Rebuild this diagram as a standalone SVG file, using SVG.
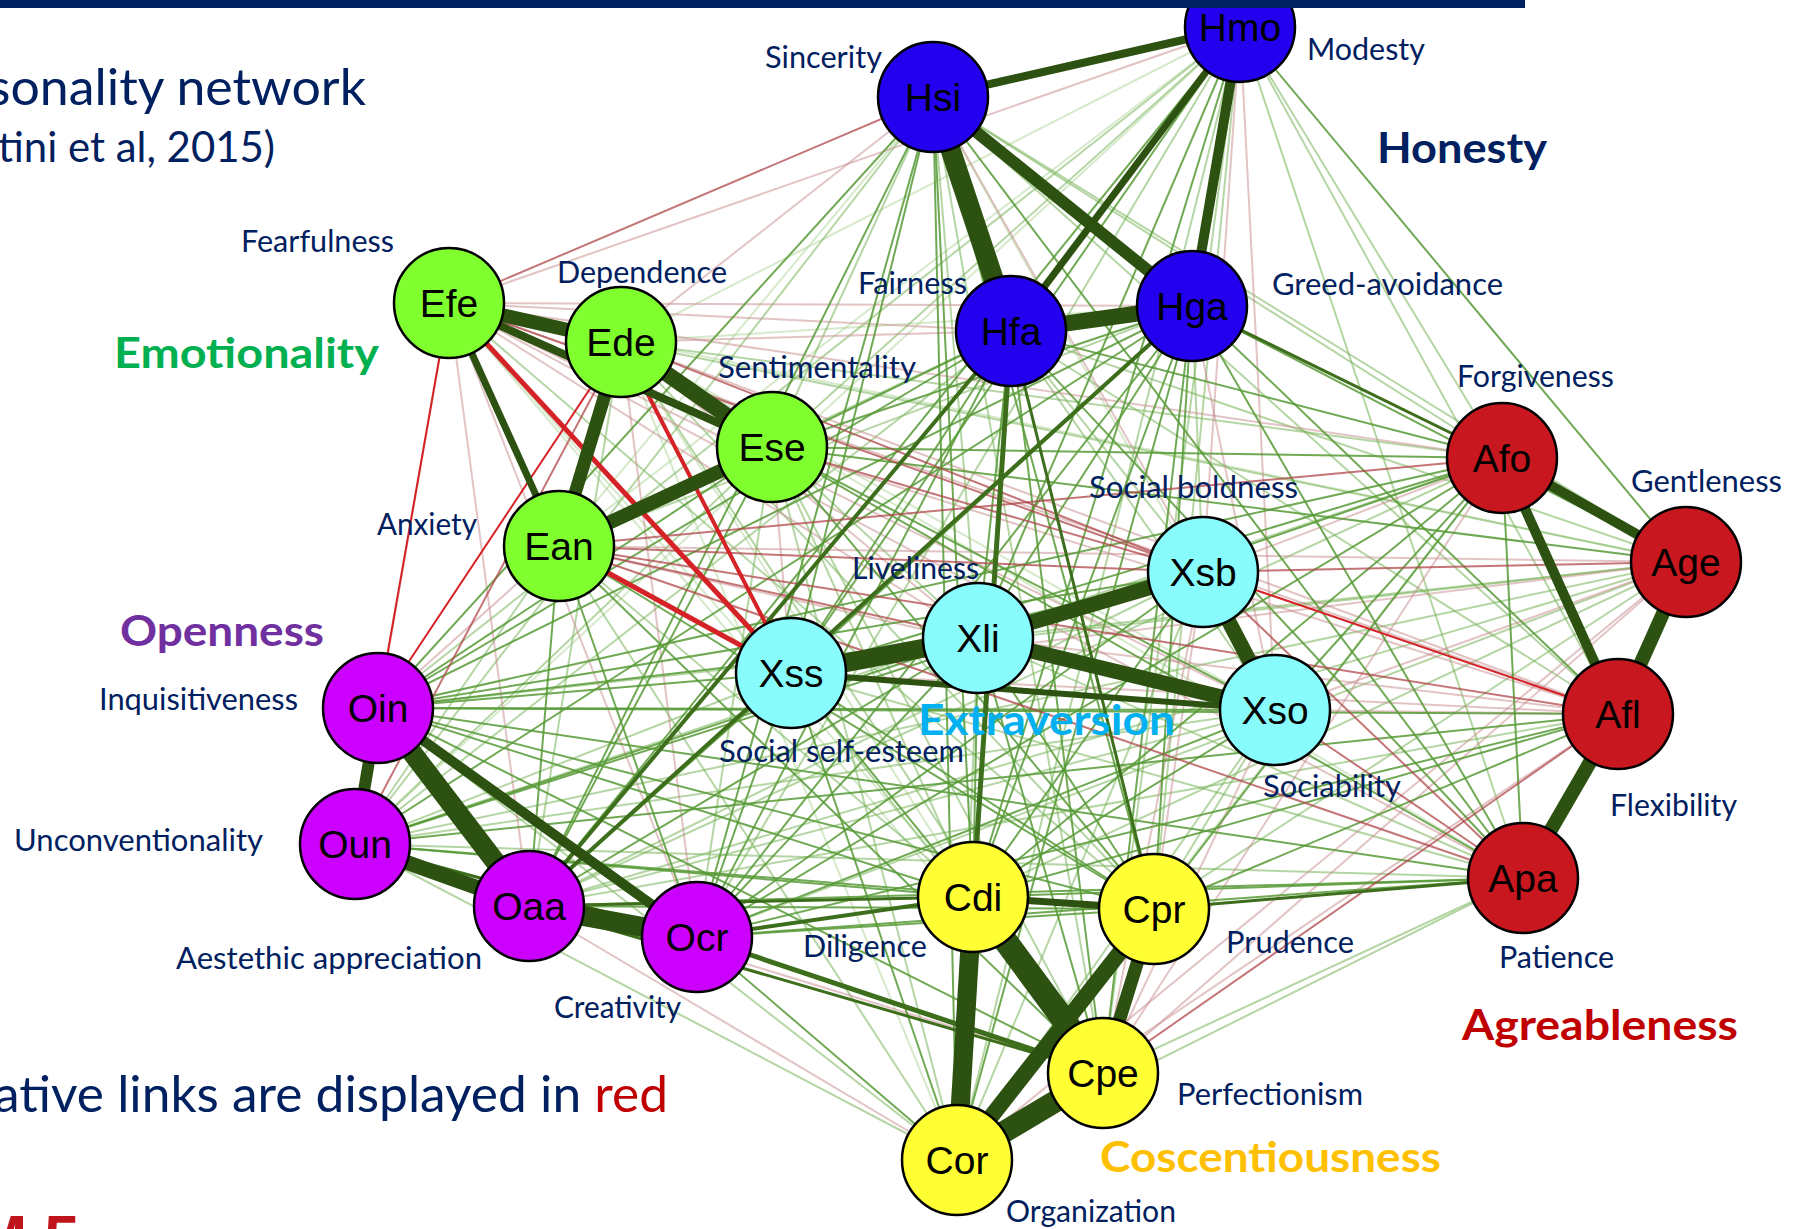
<svg xmlns="http://www.w3.org/2000/svg" width="1807" height="1229" viewBox="0 0 1807 1229">
<style>
  .bg{fill:#ffffff}
  .bar{fill:#002060}
  line{stroke-linecap:butt;fill:none}
  .g1 line{stroke:#2C5110}
  .g2 line{stroke:#3D6E1C}
  .g3 line{stroke:#579A36;stroke-width:2;stroke-opacity:.85}
  .g4 line{stroke:#79B45A;stroke-width:2;stroke-opacity:.55}
  .g5 line{stroke:#A5CF8C;stroke-width:2;stroke-opacity:.45}
  .r1 line{stroke:#D42226}
  .r2 line{stroke:#B0474B;stroke-width:2;stroke-opacity:.75}
  .r3 line{stroke:#C78A8C;stroke-width:2;stroke-opacity:.5}
  .node circle{stroke:#000;stroke-width:2.5}
  .node text{font-family:"Liberation Sans",Arial,sans-serif;font-size:39px;fill:#000;text-anchor:middle}
  .H circle{fill:#2300EE}
  .E circle{fill:#80FF2E}
  .X circle{fill:#88FCFC}
  .O circle{fill:#CC00FF}
  .C circle{fill:#FFFF33}
  .A circle{fill:#C8171E}
  .facet{font-family:Lato,"Open Sans",sans-serif;font-size:31px;fill:#002060}
  .cat{font-family:Lato,"Open Sans",sans-serif;font-size:42px;font-weight:bold}
  .big{font-family:Lato,"Open Sans",sans-serif;fill:#002060}
</style>
<rect class="bg" x="0" y="0" width="1807" height="1229"/>

<g id="connectors">
  <g class="g5">
    <line x1="1240" y1="27" x2="621" y2="342"/>
    <line x1="1240" y1="27" x2="559" y2="546"/>
    <line x1="1240" y1="27" x2="355" y2="844"/>
    <line x1="933" y1="97" x2="559" y2="546"/>
    <line x1="933" y1="97" x2="1275" y2="710"/>
    <line x1="1192" y1="306" x2="621" y2="342"/>
    <line x1="449" y1="303" x2="973" y2="897"/>
    <line x1="449" y1="303" x2="1103" y2="1073"/>
    <line x1="449" y1="303" x2="1686" y2="562"/>
    <line x1="621" y1="342" x2="1275" y2="710"/>
    <line x1="621" y1="342" x2="973" y2="897"/>
    <line x1="621" y1="342" x2="957" y2="1160"/>
    <line x1="621" y1="342" x2="1523" y2="878"/>
    <line x1="957" y1="1160" x2="1502" y2="458"/>
  </g>
  <g class="g4">
    <line x1="1240" y1="27" x2="772" y2="447"/>
    <line x1="1240" y1="27" x2="378" y2="708"/>
    <line x1="1240" y1="27" x2="697" y2="937"/>
    <line x1="1240" y1="27" x2="1154" y2="909"/>
    <line x1="1240" y1="27" x2="1103" y2="1073"/>
    <line x1="1240" y1="27" x2="957" y2="1160"/>
    <line x1="1240" y1="27" x2="1502" y2="458"/>
    <line x1="1240" y1="27" x2="1618" y2="714"/>
    <line x1="1240" y1="27" x2="1523" y2="878"/>
    <line x1="933" y1="97" x2="772" y2="447"/>
    <line x1="933" y1="97" x2="978" y2="638"/>
    <line x1="933" y1="97" x2="355" y2="844"/>
    <line x1="933" y1="97" x2="1103" y2="1073"/>
    <line x1="933" y1="97" x2="1502" y2="458"/>
    <line x1="933" y1="97" x2="1686" y2="562"/>
    <line x1="933" y1="97" x2="1618" y2="714"/>
    <line x1="1011" y1="331" x2="559" y2="546"/>
    <line x1="1011" y1="331" x2="1203" y2="572"/>
    <line x1="1011" y1="331" x2="1275" y2="710"/>
    <line x1="1011" y1="331" x2="355" y2="844"/>
    <line x1="1011" y1="331" x2="1686" y2="562"/>
    <line x1="1011" y1="331" x2="1618" y2="714"/>
    <line x1="1192" y1="306" x2="559" y2="546"/>
    <line x1="1192" y1="306" x2="1203" y2="572"/>
    <line x1="449" y1="303" x2="1154" y2="909"/>
    <line x1="621" y1="342" x2="529" y2="906"/>
    <line x1="621" y1="342" x2="1154" y2="909"/>
    <line x1="621" y1="342" x2="1103" y2="1073"/>
    <line x1="621" y1="342" x2="1502" y2="458"/>
    <line x1="621" y1="342" x2="1686" y2="562"/>
    <line x1="772" y1="447" x2="978" y2="638"/>
    <line x1="772" y1="447" x2="355" y2="844"/>
    <line x1="772" y1="447" x2="697" y2="937"/>
    <line x1="772" y1="447" x2="973" y2="897"/>
    <line x1="772" y1="447" x2="1103" y2="1073"/>
    <line x1="772" y1="447" x2="957" y2="1160"/>
    <line x1="559" y1="546" x2="355" y2="844"/>
    <line x1="559" y1="546" x2="973" y2="897"/>
    <line x1="559" y1="546" x2="957" y2="1160"/>
    <line x1="791" y1="673" x2="355" y2="844"/>
    <line x1="791" y1="673" x2="1103" y2="1073"/>
    <line x1="791" y1="673" x2="1523" y2="878"/>
    <line x1="978" y1="638" x2="957" y2="1160"/>
    <line x1="978" y1="638" x2="1686" y2="562"/>
    <line x1="978" y1="638" x2="1523" y2="878"/>
    <line x1="1203" y1="572" x2="529" y2="906"/>
    <line x1="1203" y1="572" x2="957" y2="1160"/>
    <line x1="1275" y1="710" x2="355" y2="844"/>
    <line x1="1275" y1="710" x2="529" y2="906"/>
    <line x1="1275" y1="710" x2="1154" y2="909"/>
    <line x1="1275" y1="710" x2="957" y2="1160"/>
    <line x1="378" y1="708" x2="957" y2="1160"/>
    <line x1="378" y1="708" x2="1686" y2="562"/>
    <line x1="355" y1="844" x2="957" y2="1160"/>
    <line x1="355" y1="844" x2="1502" y2="458"/>
    <line x1="355" y1="844" x2="1686" y2="562"/>
    <line x1="355" y1="844" x2="1523" y2="878"/>
    <line x1="529" y1="906" x2="1502" y2="458"/>
    <line x1="529" y1="906" x2="1686" y2="562"/>
    <line x1="529" y1="906" x2="1618" y2="714"/>
    <line x1="697" y1="937" x2="1686" y2="562"/>
    <line x1="973" y1="897" x2="1686" y2="562"/>
    <line x1="1154" y1="909" x2="1686" y2="562"/>
    <line x1="1103" y1="1073" x2="1523" y2="878"/>
    <line x1="957" y1="1160" x2="1523" y2="878"/>
    <line x1="1686" y1="562" x2="1523" y2="878"/>
  </g>
  <g class="r3">
    <line x1="1240" y1="27" x2="449" y2="303"/>
    <line x1="1240" y1="27" x2="1203" y2="572"/>
    <line x1="1240" y1="27" x2="1275" y2="710"/>
    <line x1="933" y1="97" x2="621" y2="342"/>
    <line x1="933" y1="97" x2="1203" y2="572"/>
    <line x1="1011" y1="331" x2="449" y2="303"/>
    <line x1="1011" y1="331" x2="621" y2="342"/>
    <line x1="1192" y1="306" x2="449" y2="303"/>
    <line x1="1192" y1="306" x2="1275" y2="710"/>
    <line x1="449" y1="303" x2="978" y2="638"/>
    <line x1="449" y1="303" x2="1275" y2="710"/>
    <line x1="449" y1="303" x2="355" y2="844"/>
    <line x1="449" y1="303" x2="529" y2="906"/>
    <line x1="449" y1="303" x2="697" y2="937"/>
    <line x1="449" y1="303" x2="1502" y2="458"/>
    <line x1="449" y1="303" x2="1618" y2="714"/>
    <line x1="449" y1="303" x2="1523" y2="878"/>
    <line x1="621" y1="342" x2="978" y2="638"/>
    <line x1="621" y1="342" x2="697" y2="937"/>
    <line x1="621" y1="342" x2="1618" y2="714"/>
    <line x1="772" y1="447" x2="791" y2="673"/>
    <line x1="772" y1="447" x2="1618" y2="714"/>
    <line x1="559" y1="546" x2="1275" y2="710"/>
    <line x1="559" y1="546" x2="378" y2="708"/>
    <line x1="559" y1="546" x2="1686" y2="562"/>
    <line x1="791" y1="673" x2="1686" y2="562"/>
    <line x1="791" y1="673" x2="1618" y2="714"/>
    <line x1="978" y1="638" x2="1618" y2="714"/>
    <line x1="1203" y1="572" x2="1154" y2="909"/>
    <line x1="1203" y1="572" x2="1103" y2="1073"/>
    <line x1="1203" y1="572" x2="1502" y2="458"/>
    <line x1="1275" y1="710" x2="1103" y2="1073"/>
    <line x1="1275" y1="710" x2="1686" y2="562"/>
    <line x1="1275" y1="710" x2="1618" y2="714"/>
    <line x1="355" y1="844" x2="1103" y2="1073"/>
    <line x1="529" y1="906" x2="957" y2="1160"/>
    <line x1="1103" y1="1073" x2="1502" y2="458"/>
    <line x1="1103" y1="1073" x2="1686" y2="562"/>
    <line x1="957" y1="1160" x2="1686" y2="562"/>
    <line x1="957" y1="1160" x2="1618" y2="714"/>
  </g>
  <g class="g3">
    <line x1="1240" y1="27" x2="791" y2="673"/>
    <line x1="1240" y1="27" x2="978" y2="638"/>
    <line x1="1240" y1="27" x2="529" y2="906"/>
    <line x1="1240" y1="27" x2="973" y2="897"/>
    <line x1="1240" y1="27" x2="1686" y2="562"/>
    <line x1="933" y1="97" x2="791" y2="673"/>
    <line x1="933" y1="97" x2="378" y2="708"/>
    <line x1="933" y1="97" x2="529" y2="906"/>
    <line x1="933" y1="97" x2="697" y2="937"/>
    <line x1="933" y1="97" x2="973" y2="897"/>
    <line x1="933" y1="97" x2="1154" y2="909"/>
    <line x1="933" y1="97" x2="957" y2="1160"/>
    <line x1="933" y1="97" x2="1523" y2="878"/>
    <line x1="1011" y1="331" x2="772" y2="447"/>
    <line x1="1011" y1="331" x2="791" y2="673"/>
    <line x1="1011" y1="331" x2="978" y2="638"/>
    <line x1="1011" y1="331" x2="378" y2="708"/>
    <line x1="1011" y1="331" x2="697" y2="937"/>
    <line x1="1011" y1="331" x2="1103" y2="1073"/>
    <line x1="1011" y1="331" x2="957" y2="1160"/>
    <line x1="1011" y1="331" x2="1502" y2="458"/>
    <line x1="1011" y1="331" x2="1523" y2="878"/>
    <line x1="1192" y1="306" x2="772" y2="447"/>
    <line x1="1192" y1="306" x2="791" y2="673"/>
    <line x1="1192" y1="306" x2="978" y2="638"/>
    <line x1="1192" y1="306" x2="378" y2="708"/>
    <line x1="1192" y1="306" x2="355" y2="844"/>
    <line x1="1192" y1="306" x2="697" y2="937"/>
    <line x1="1192" y1="306" x2="973" y2="897"/>
    <line x1="1192" y1="306" x2="1154" y2="909"/>
    <line x1="1192" y1="306" x2="1103" y2="1073"/>
    <line x1="1192" y1="306" x2="957" y2="1160"/>
    <line x1="1192" y1="306" x2="1686" y2="562"/>
    <line x1="1192" y1="306" x2="1618" y2="714"/>
    <line x1="1192" y1="306" x2="1523" y2="878"/>
    <line x1="772" y1="447" x2="1275" y2="710"/>
    <line x1="772" y1="447" x2="378" y2="708"/>
    <line x1="772" y1="447" x2="529" y2="906"/>
    <line x1="772" y1="447" x2="1154" y2="909"/>
    <line x1="772" y1="447" x2="1502" y2="458"/>
    <line x1="772" y1="447" x2="1686" y2="562"/>
    <line x1="772" y1="447" x2="1523" y2="878"/>
    <line x1="559" y1="546" x2="529" y2="906"/>
    <line x1="559" y1="546" x2="697" y2="937"/>
    <line x1="559" y1="546" x2="1154" y2="909"/>
    <line x1="559" y1="546" x2="1103" y2="1073"/>
    <line x1="791" y1="673" x2="1203" y2="572"/>
    <line x1="791" y1="673" x2="378" y2="708"/>
    <line x1="791" y1="673" x2="529" y2="906"/>
    <line x1="791" y1="673" x2="697" y2="937"/>
    <line x1="791" y1="673" x2="973" y2="897"/>
    <line x1="791" y1="673" x2="1154" y2="909"/>
    <line x1="791" y1="673" x2="957" y2="1160"/>
    <line x1="791" y1="673" x2="1502" y2="458"/>
    <line x1="978" y1="638" x2="378" y2="708"/>
    <line x1="978" y1="638" x2="355" y2="844"/>
    <line x1="978" y1="638" x2="529" y2="906"/>
    <line x1="978" y1="638" x2="697" y2="937"/>
    <line x1="978" y1="638" x2="973" y2="897"/>
    <line x1="978" y1="638" x2="1154" y2="909"/>
    <line x1="978" y1="638" x2="1103" y2="1073"/>
    <line x1="978" y1="638" x2="1502" y2="458"/>
    <line x1="1203" y1="572" x2="378" y2="708"/>
    <line x1="1203" y1="572" x2="355" y2="844"/>
    <line x1="1203" y1="572" x2="697" y2="937"/>
    <line x1="1203" y1="572" x2="973" y2="897"/>
    <line x1="1275" y1="710" x2="378" y2="708"/>
    <line x1="1275" y1="710" x2="697" y2="937"/>
    <line x1="1275" y1="710" x2="973" y2="897"/>
    <line x1="1275" y1="710" x2="1502" y2="458"/>
    <line x1="378" y1="708" x2="973" y2="897"/>
    <line x1="378" y1="708" x2="1154" y2="909"/>
    <line x1="378" y1="708" x2="1103" y2="1073"/>
    <line x1="378" y1="708" x2="1502" y2="458"/>
    <line x1="378" y1="708" x2="1618" y2="714"/>
    <line x1="378" y1="708" x2="1523" y2="878"/>
    <line x1="355" y1="844" x2="973" y2="897"/>
    <line x1="355" y1="844" x2="1154" y2="909"/>
    <line x1="355" y1="844" x2="1618" y2="714"/>
    <line x1="529" y1="906" x2="1154" y2="909"/>
    <line x1="529" y1="906" x2="1523" y2="878"/>
    <line x1="697" y1="937" x2="1154" y2="909"/>
    <line x1="697" y1="937" x2="957" y2="1160"/>
    <line x1="697" y1="937" x2="1502" y2="458"/>
    <line x1="697" y1="937" x2="1618" y2="714"/>
    <line x1="697" y1="937" x2="1523" y2="878"/>
    <line x1="973" y1="897" x2="1502" y2="458"/>
    <line x1="973" y1="897" x2="1618" y2="714"/>
    <line x1="973" y1="897" x2="1523" y2="878"/>
    <line x1="1154" y1="909" x2="1502" y2="458"/>
    <line x1="1154" y1="909" x2="1618" y2="714"/>
    <line x1="1502" y1="458" x2="1523" y2="878"/>
  </g>
  <g class="r2">
    <line x1="933" y1="97" x2="449" y2="303"/>
    <line x1="449" y1="303" x2="1203" y2="572"/>
    <line x1="621" y1="342" x2="1203" y2="572"/>
    <line x1="621" y1="342" x2="355" y2="844"/>
    <line x1="772" y1="447" x2="1203" y2="572"/>
    <line x1="559" y1="546" x2="978" y2="638"/>
    <line x1="559" y1="546" x2="1203" y2="572"/>
    <line x1="559" y1="546" x2="1502" y2="458"/>
    <line x1="559" y1="546" x2="1618" y2="714"/>
    <line x1="559" y1="546" x2="1523" y2="878"/>
    <line x1="1203" y1="572" x2="1686" y2="562"/>
    <line x1="1203" y1="572" x2="1523" y2="878"/>
    <line x1="1275" y1="710" x2="1523" y2="878"/>
    <line x1="1103" y1="1073" x2="1618" y2="714"/>
  </g>
  <g class="g2">
    <line x1="1011" y1="331" x2="529" y2="906" stroke-width="4"/>
    <line x1="1192" y1="306" x2="529" y2="906" stroke-width="4"/>
    <line x1="1011" y1="331" x2="973" y2="897" stroke-width="5"/>
    <line x1="1011" y1="331" x2="1154" y2="909" stroke-width="3"/>
    <line x1="1192" y1="306" x2="1502" y2="458" stroke-width="3"/>
    <line x1="355" y1="844" x2="697" y2="937" stroke-width="3"/>
    <line x1="529" y1="906" x2="973" y2="897" stroke-width="3"/>
    <line x1="529" y1="906" x2="1103" y2="1073" stroke-width="3"/>
    <line x1="697" y1="937" x2="973" y2="897" stroke-width="4"/>
    <line x1="697" y1="937" x2="1103" y2="1073" stroke-width="5"/>
    <line x1="1154" y1="909" x2="1523" y2="878" stroke-width="3"/>
  </g>
  <g class="r1">
    <line x1="449" y1="303" x2="791" y2="673" stroke-width="5"/>
    <line x1="621" y1="342" x2="791" y2="673" stroke-width="4"/>
    <line x1="559" y1="546" x2="791" y2="673" stroke-width="5"/>
    <line x1="449" y1="303" x2="378" y2="708" stroke-width="2"/>
    <line x1="621" y1="342" x2="378" y2="708" stroke-width="2"/>
    <line x1="1203" y1="572" x2="1618" y2="714" stroke-width="2"/>
  </g>
  <g class="g1">
    <line x1="1240" y1="27" x2="933" y2="97" stroke-width="8"/>
    <line x1="1240" y1="27" x2="1011" y2="331" stroke-width="7"/>
    <line x1="1240" y1="27" x2="1192" y2="306" stroke-width="10"/>
    <line x1="933" y1="97" x2="1011" y2="331" stroke-width="20"/>
    <line x1="933" y1="97" x2="1192" y2="306" stroke-width="12"/>
    <line x1="1011" y1="331" x2="1192" y2="306" stroke-width="16"/>
    <line x1="449" y1="303" x2="621" y2="342" stroke-width="14"/>
    <line x1="449" y1="303" x2="772" y2="447" stroke-width="8"/>
    <line x1="449" y1="303" x2="559" y2="546" stroke-width="7"/>
    <line x1="621" y1="342" x2="772" y2="447" stroke-width="16"/>
    <line x1="621" y1="342" x2="559" y2="546" stroke-width="13"/>
    <line x1="772" y1="447" x2="559" y2="546" stroke-width="14"/>
    <line x1="791" y1="673" x2="978" y2="638" stroke-width="19"/>
    <line x1="791" y1="673" x2="1275" y2="710" stroke-width="6"/>
    <line x1="978" y1="638" x2="1203" y2="572" stroke-width="15"/>
    <line x1="978" y1="638" x2="1275" y2="710" stroke-width="15"/>
    <line x1="1203" y1="572" x2="1275" y2="710" stroke-width="15"/>
    <line x1="378" y1="708" x2="355" y2="844" stroke-width="12"/>
    <line x1="378" y1="708" x2="529" y2="906" stroke-width="20"/>
    <line x1="378" y1="708" x2="697" y2="937" stroke-width="10"/>
    <line x1="355" y1="844" x2="529" y2="906" stroke-width="15"/>
    <line x1="529" y1="906" x2="697" y2="937" stroke-width="20"/>
    <line x1="973" y1="897" x2="1154" y2="909" stroke-width="7"/>
    <line x1="973" y1="897" x2="1103" y2="1073" stroke-width="24"/>
    <line x1="973" y1="897" x2="957" y2="1160" stroke-width="19"/>
    <line x1="1154" y1="909" x2="1103" y2="1073" stroke-width="13"/>
    <line x1="1154" y1="909" x2="957" y2="1160" stroke-width="16"/>
    <line x1="1103" y1="1073" x2="957" y2="1160" stroke-width="22"/>
    <line x1="1502" y1="458" x2="1686" y2="562" stroke-width="10"/>
    <line x1="1502" y1="458" x2="1618" y2="714" stroke-width="10"/>
    <line x1="1686" y1="562" x2="1618" y2="714" stroke-width="14"/>
    <line x1="1618" y1="714" x2="1523" y2="878" stroke-width="14"/>
  </g>
</g>

<!-- Honesty-Humility facets -->
<g id="Hmo" class="node H"><circle cx="1240" cy="27" r="55"/><text x="1240" y="41">Hmo</text></g>
<g id="Hsi" class="node H"><circle cx="933" cy="97" r="55"/><text x="933" y="111">Hsi</text></g>
<g id="Hfa" class="node H"><circle cx="1011" cy="331" r="55"/><text x="1011" y="345">Hfa</text></g>
<g id="Hga" class="node H"><circle cx="1192" cy="306" r="55"/><text x="1192" y="320">Hga</text></g>
<!-- Emotionality facets -->
<g id="Efe" class="node E"><circle cx="449" cy="303" r="55"/><text x="449" y="317">Efe</text></g>
<g id="Ede" class="node E"><circle cx="621" cy="342" r="55"/><text x="621" y="356">Ede</text></g>
<g id="Ese" class="node E"><circle cx="772" cy="447" r="55"/><text x="772" y="461">Ese</text></g>
<g id="Ean" class="node E"><circle cx="559" cy="546" r="55"/><text x="559" y="560">Ean</text></g>
<!-- Extraversion facets -->
<g id="Xss" class="node X"><circle cx="791" cy="673" r="55"/><text x="791" y="687">Xss</text></g>
<g id="Xli" class="node X"><circle cx="978" cy="638" r="55"/><text x="978" y="652">Xli</text></g>
<g id="Xsb" class="node X"><circle cx="1203" cy="572" r="55"/><text x="1203" y="586">Xsb</text></g>
<g id="Xso" class="node X"><circle cx="1275" cy="710" r="55"/><text x="1275" y="724">Xso</text></g>
<!-- Openness facets -->
<g id="Oin" class="node O"><circle cx="378" cy="708" r="55"/><text x="378" y="722">Oin</text></g>
<g id="Oun" class="node O"><circle cx="355" cy="844" r="55"/><text x="355" y="858">Oun</text></g>
<g id="Oaa" class="node O"><circle cx="529" cy="906" r="55"/><text x="529" y="920">Oaa</text></g>
<g id="Ocr" class="node O"><circle cx="697" cy="937" r="55"/><text x="697" y="951">Ocr</text></g>
<!-- Conscientiousness facets -->
<g id="Cdi" class="node C"><circle cx="973" cy="897" r="55"/><text x="973" y="911">Cdi</text></g>
<g id="Cpr" class="node C"><circle cx="1154" cy="909" r="55"/><text x="1154" y="923">Cpr</text></g>
<g id="Cpe" class="node C"><circle cx="1103" cy="1073" r="55"/><text x="1103" y="1087">Cpe</text></g>
<g id="Cor" class="node C"><circle cx="957" cy="1160" r="55"/><text x="957" y="1174">Cor</text></g>
<!-- Agreeableness facets -->
<g id="Afo" class="node A"><circle cx="1502" cy="458" r="55"/><text x="1502" y="472">Afo</text></g>
<g id="Age" class="node A"><circle cx="1686" cy="562" r="55"/><text x="1686" y="576">Age</text></g>
<g id="Afl" class="node A"><circle cx="1618" cy="714" r="55"/><text x="1618" y="728">Afl</text></g>
<g id="Apa" class="node A"><circle cx="1523" cy="878" r="55"/><text x="1523" y="892">Apa</text></g>

<!-- top banner rule -->
<rect class="bar" x="0" y="0" width="1525" height="8"/>

<!-- facet names -->
<g id="facet-labels" class="facet">
  <text x="765" y="68" textLength="117" lengthAdjust="spacingAndGlyphs">Sincerity</text>
  <text x="1307" y="60" textLength="118" lengthAdjust="spacingAndGlyphs">Modesty</text>
  <text x="241" y="252" textLength="153" lengthAdjust="spacingAndGlyphs">Fearfulness</text>
  <text x="557" y="283" textLength="170" lengthAdjust="spacingAndGlyphs">Dependence</text>
  <text x="858" y="294" textLength="109" lengthAdjust="spacingAndGlyphs">Fairness</text>
  <text x="1272" y="295" textLength="231" lengthAdjust="spacingAndGlyphs">Greed-avoidance</text>
  <text x="718" y="378" textLength="198" lengthAdjust="spacingAndGlyphs">Sentimentality</text>
  <text x="1457" y="387" textLength="157" lengthAdjust="spacingAndGlyphs">Forgiveness</text>
  <text x="1631" y="492" textLength="151" lengthAdjust="spacingAndGlyphs">Gentleness</text>
  <text x="1089" y="498" textLength="209" lengthAdjust="spacingAndGlyphs">Social boldness</text>
  <text x="377" y="535" textLength="100" lengthAdjust="spacingAndGlyphs">Anxiety</text>
  <text x="852" y="579" textLength="127" lengthAdjust="spacingAndGlyphs">Liveliness</text>
  <text x="99" y="710" textLength="199" lengthAdjust="spacingAndGlyphs">Inquisitiveness</text>
  <text x="719" y="762" textLength="245" lengthAdjust="spacingAndGlyphs">Social self-esteem</text>
  <text x="1263" y="797" textLength="138" lengthAdjust="spacingAndGlyphs">Sociability</text>
  <text x="1610" y="816" textLength="127" lengthAdjust="spacingAndGlyphs">Flexibility</text>
  <text x="14" y="851" textLength="249" lengthAdjust="spacingAndGlyphs">Unconventionality</text>
  <text x="176" y="969" textLength="306" lengthAdjust="spacingAndGlyphs">Aestethic appreciation</text>
  <text x="803" y="957" textLength="124" lengthAdjust="spacingAndGlyphs">Diligence</text>
  <text x="1226" y="953" textLength="128" lengthAdjust="spacingAndGlyphs">Prudence</text>
  <text x="1499" y="968" textLength="115" lengthAdjust="spacingAndGlyphs">Patience</text>
  <text x="554" y="1018" textLength="127" lengthAdjust="spacingAndGlyphs">Creativity</text>
  <text x="1177" y="1105" textLength="186" lengthAdjust="spacingAndGlyphs">Perfectionism</text>
  <text x="1006" y="1222" textLength="170" lengthAdjust="spacingAndGlyphs">Organization</text>
</g>

<!-- trait (domain) names -->
<g id="domain-labels" class="cat">
  <text x="114" y="368" fill="#00B050" textLength="265" lengthAdjust="spacingAndGlyphs">Emotionality</text>
  <text x="120" y="646" fill="#7030A0" textLength="204" lengthAdjust="spacingAndGlyphs">Openness</text>
  <text x="1377" y="163" fill="#002060" textLength="170" lengthAdjust="spacingAndGlyphs">Honesty</text>
  <text x="918" y="735" fill="#00B0F0" textLength="257" lengthAdjust="spacingAndGlyphs">Extraversion</text>
  <text x="1100" y="1172" fill="#FFC000" textLength="341" lengthAdjust="spacingAndGlyphs">Coscentiousness</text>
  <text x="1462" y="1040" fill="#C00000" textLength="276" lengthAdjust="spacingAndGlyphs">Agreableness</text>
</g>

<!-- slide title and note -->
<g id="slide-text" class="big">
  <text x="366" y="105" font-size="50" text-anchor="end" textLength="378" lengthAdjust="spacingAndGlyphs">sonality network</text>
  <text x="275" y="162" font-size="42" text-anchor="end" textLength="277" lengthAdjust="spacingAndGlyphs">tini et al, 2015)</text>
  <text x="668" y="1112" font-size="50" text-anchor="end" textLength="674" lengthAdjust="spacingAndGlyphs">ative links are displayed in <tspan fill="#C00000">red</tspan></text>
</g>
<text x="-26 44" y="1261" font-family="'Liberation Sans',Arial,sans-serif" font-weight="bold" font-size="64" fill="#C0141C">M5</text>
</svg>
